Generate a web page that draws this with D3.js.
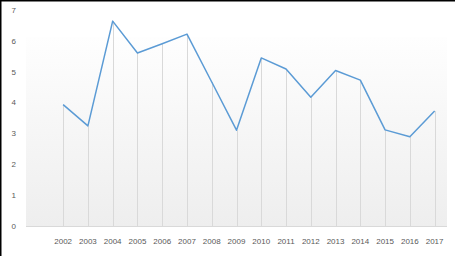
<!DOCTYPE html>
<html>
<head>
<meta charset="utf-8">
<script src="https://cdn.jsdelivr.net/npm/d3@7"></script>
<style>
  body { margin: 0; background: #fff; }
  svg { display: block; font-family: "Liberation Sans", Arial, sans-serif; }
</style>
</head>
<body>
<div id="chart"></div>
<script>
// data (first slot is a blank category)
const years = ["", "2002", "2003", "2004", "2005", "2006", "2007", "2008", "2009",
               "2010", "2011", "2012", "2013", "2014", "2015", "2016", "2017"];
const values = [null, 3.93, 3.24, 6.63, 5.6, 5.9, 6.21, 4.66, 3.1,
                5.44, 5.08, 4.17, 5.03, 4.72, 3.11, 2.89, 3.72];
const yTicks = [0, 1, 2, 3, 4, 5, 6, 7];

const width = 458, height = 256;
const svg = d3.select("#chart").append("svg")
    .attr("width", width)
    .attr("height", height);

const x = d3.scaleBand().domain(years).range([26, 447]);
const y = d3.scaleLinear().domain([0, 7]).range([226, 9.7]);

// gradient for the plot area
const grad = svg.append("defs").append("linearGradient")
    .attr("id", "bg").attr("x1", 0).attr("y1", 0).attr("x2", 0).attr("y2", 1);
grad.append("stop").attr("offset", "0%").attr("stop-color", "#fefefe");
grad.append("stop").attr("offset", "100%").attr("stop-color", "#eeeeee");

svg.append("rect")
    .attr("x", 26).attr("y", 37)
    .attr("width", 421).attr("height", 226 - 37)
    .attr("fill", "url(#bg)");

// frame (top + left only)
svg.append("line").attr("x1", 0).attr("y1", 0.75).attr("x2", 455).attr("y2", 0.75)
    .attr("stroke", "#000").attr("stroke-width", 1.5);
svg.append("line").attr("x1", 0.75).attr("y1", 0).attr("x2", 0.75).attr("y2", height)
    .attr("stroke", "#000").attr("stroke-width", 1.5);

const pts = years.map((d, i) => ({ year: d, v: values[i] })).filter(d => d.v !== null);
const cx = d => x(d.year) + x.bandwidth() / 2;

// drop lines
svg.selectAll(".drop")
    .data(pts)
    .enter()
    .append("line")
    .attr("class", "drop")
    .attr("x1", d => Math.round(cx(d)) + 0.5)
    .attr("x2", d => Math.round(cx(d)) + 0.5)
    .attr("y1", d => y(d.v))
    .attr("y2", y(0))
    .attr("stroke", "#d9d9d9")
    .attr("stroke-width", 1);

// baseline
svg.append("line")
    .attr("x1", 26).attr("x2", 447)
    .attr("y1", y(0) + 0.5).attr("y2", y(0) + 0.5)
    .attr("stroke", "#d9d9d9");

// y tick labels
svg.selectAll(".ylab")
    .data(yTicks)
    .enter()
    .append("text")
    .attr("class", "ylab")
    .attr("x", 16)
    .attr("y", d => y(d) + 3)
    .attr("text-anchor", "end")
    .attr("font-size", "8px")
    .attr("fill", "#595959")
    .text(d => d);

// x tick labels
svg.selectAll(".xlab")
    .data(pts)
    .enter()
    .append("text")
    .attr("class", "xlab")
    .attr("x", d => cx(d))
    .attr("y", 244)
    .attr("text-anchor", "middle")
    .attr("font-size", "8px")
    .attr("fill", "#595959")
    .text(d => d.year);

// the series line
const line = d3.line().x(d => cx(d)).y(d => y(d.v));
svg.append("path")
    .datum(pts)
    .attr("d", line)
    .attr("fill", "none")
    .attr("stroke", "#5b9bd5")
    .attr("stroke-width", 1.5)
    .attr("stroke-linejoin", "round");
</script>
</body>
</html>
